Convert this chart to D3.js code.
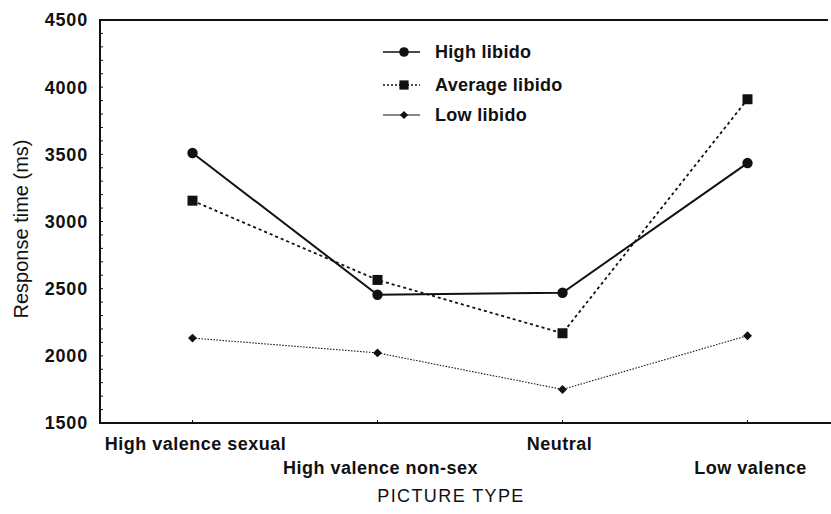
<!DOCTYPE html>
<html>
<head>
<meta charset="utf-8">
<script src="https://cdn.jsdelivr.net/npm/d3@7"></script>
<style>
  body { margin: 0; background: #fff; }
  text { font-family: "Liberation Sans", Arial, sans-serif; fill: #111; }
</style>
</head>
<body>
<div id="canvas"></div>
<script>
// data
const categories = ["High valence sexual", "High valence non-sex", "Neutral", "Low valence"];
const highLibido = [3510, 2455, 2470, 3435];
const averageLibido = [3155, 2565, 2168, 3910];
const lowLibido = [2132, 2022, 1750, 2150];
const yTicks = [1500, 2000, 2500, 3000, 3500, 4000, 4500];
const seriesNames = ["High libido", "Average libido", "Low libido"];

const width = 831, height = 514;
const margin = {top: 20, right: 0, bottom: 91, left: 100};
const plotBottom = height - margin.bottom;

const svg = d3.select("#canvas")
    .append("svg")
    .attr("width", width)
    .attr("height", height);

const x = d3.scalePoint()
    .domain(categories)
    .range([margin.left, 840])
    .padding(0.5);

const y = d3.scaleLinear()
    .domain([1500, 4500])
    .range([plotBottom, margin.top]);

// frame: left, top and bottom lines
svg.append("line")
    .attr("x1", margin.left).attr("x2", margin.left)
    .attr("y1", margin.top).attr("y2", plotBottom)
    .attr("stroke", "#111").attr("stroke-width", 2);
svg.append("line")
    .attr("x1", margin.left - 1).attr("x2", 828)
    .attr("y1", margin.top).attr("y2", margin.top)
    .attr("stroke", "#111").attr("stroke-width", 2);
svg.append("line")
    .attr("x1", margin.left - 1).attr("x2", width)
    .attr("y1", plotBottom).attr("y2", plotBottom)
    .attr("stroke", "#111").attr("stroke-width", 2);

// y axis (minor ticks every 100 inside the frame)
svg.append("g")
    .selectAll("line")
    .data(d3.range(1600, 4500, 100))
    .join("line")
    .attr("x1", margin.left).attr("x2", margin.left + 3)
    .attr("y1", d => y(d)).attr("y2", d => y(d))
    .attr("stroke", "#111").attr("stroke-width", 1);

svg.append("g")
    .selectAll("text")
    .data(yTicks)
    .join("text")
    .attr("x", 88)
    .attr("y", d => y(d))
    .attr("dy", "0.36em")
    .attr("text-anchor", "end")
    .style("font-size", "18px")
    .style("font-weight", "bold")
    .style("letter-spacing", "0.8px")
    .text(d => d);

// x axis ticks and staggered labels
svg.append("g")
    .selectAll("line")
    .data(categories)
    .join("line")
    .attr("x1", d => x(d)).attr("x2", d => x(d))
    .attr("y1", plotBottom).attr("y2", plotBottom - 3)
    .attr("stroke", "#111");

const labelShift = [3, 3, -3, 3];
svg.append("g")
    .selectAll("text")
    .data(categories)
    .join("text")
    .attr("x", (d, i) => x(d) + labelShift[i])
    .attr("y", (d, i) => i % 2 === 0 ? 450 : 474)
    .attr("text-anchor", "middle")
    .style("font-size", "18px")
    .style("font-weight", "bold")
    .style("letter-spacing", "0.5px")
    .text(d => d);

// axis titles
svg.append("text")
    .attr("x", 451)
    .attr("y", 502)
    .attr("text-anchor", "middle")
    .style("font-size", "18px")
    .style("letter-spacing", "1.4px")
    .text("PICTURE TYPE");

svg.append("text")
    .attr("transform", "translate(28,229) rotate(-90)")
    .attr("text-anchor", "middle")
    .style("font-size", "20px")
    .text("Response time (ms)");

// series
const series = [
    {name: seriesNames[0], values: highLibido, dash: null, legendDash: null, width: 2, symbol: d3.symbolCircle, size: 85, rot: 0},
    {name: seriesNames[1], values: averageLibido, dash: "3,3", legendDash: "2,2", width: 1.8, symbol: d3.symbolSquare, size: 100, rot: 0},
    {name: seriesNames[2], values: lowLibido, dash: "1.5,1.5", legendDash: null, width: 1.1, symbol: d3.symbolSquare, size: 40, rot: 45}
];

const line = d3.line()
    .x((d, i) => x(categories[i]))
    .y(d => y(d));

series.forEach(s => {
    svg.append("path")
        .datum(s.values)
        .attr("fill", "none")
        .attr("stroke", "#111")
        .attr("stroke-width", s.width)
        .attr("stroke-dasharray", s.dash)
        .attr("d", line);

    svg.append("g")
        .selectAll("path")
        .data(s.values)
        .join("path")
        .attr("transform", (d, i) => "translate(" + x(categories[i]) + "," + y(d) + ") rotate(" + s.rot + ")")
        .attr("d", d3.symbol().type(s.symbol).size(s.size))
        .attr("fill", "#111");
});

// legend
const legend = svg.append("g")
    .selectAll("g")
    .data(series)
    .join("g")
    .attr("transform", (d, i) => "translate(383," + [52, 85, 115][i] + ")");

legend.append("line")
    .attr("x1", 0).attr("x2", 37)
    .attr("stroke", "#111")
    .attr("stroke-width", d => Math.min(d.width, 1.5))
    .attr("stroke-dasharray", d => d.legendDash);

legend.append("path")
    .attr("transform", d => "translate(21,0) rotate(" + d.rot + ")")
    .attr("d", d => d3.symbol().type(d.symbol).size(d.size * 0.85)())
    .attr("fill", "#111");

legend.append("text")
    .attr("x", 52)
    .attr("dy", "0.36em")
    .style("font-size", "18px")
    .style("font-weight", "bold")
    .style("letter-spacing", "0.3px")
    .text(d => d.name);
</script>
</body>
</html>
